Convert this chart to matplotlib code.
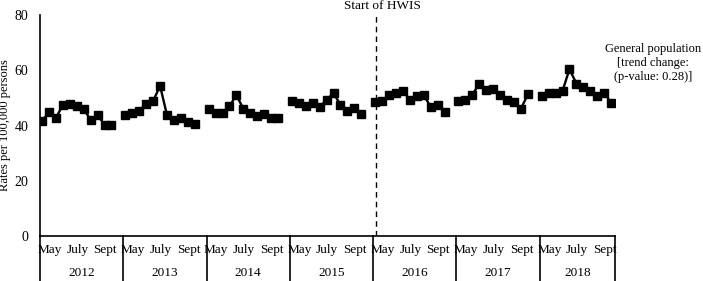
import numpy as np
import matplotlib
matplotlib.use("Agg")
import matplotlib.pyplot as plt

plt.rcParams['font.family']=['Liberation Serif','DejaVu Serif']

#data (11 points per year, May to Sept)
years=['2012','2013','2014','2015','2016','2017','2018']
month_labels=['May','July','Sept']
rate_2012=[41.6,44.8,42.7,47.6,47.7,47.2,46.0,42.0,43.9,40.2,40.2]
rate_2013=[43.8,44.4,45.3,47.9,48.8,54.4,43.8,42.1,42.7,41.1,40.4]
rate_2014=[45.8,44.7,44.7,47.0,51.0,46.1,44.5,43.6,44.1,42.7,42.9]
rate_2015=[48.9,48.3,47.1,48.3,46.6,49.4,51.6,47.6,45.1,46.3,44.3]
rate_2016=[48.5,49.0,50.9,51.6,52.5,49.4,50.7,51.1,46.7,47.3,45.0]
rate_2017=[48.8,49.1,51.2,55.0,53.0,53.2,51.2,49.1,48.4,46.0,51.3]
rate_2018=[50.8,51.6,51.6,52.5,60.4,55.2,54.1,52.5,50.7,51.9,48.2]
rates=[rate_2012,rate_2013,rate_2014,rate_2015,rate_2016,rate_2017,rate_2018]

fig=plt.figure(figsize=(7.03,2.81),dpi=100)
ax=fig.add_axes([0.0569,0.160,0.8178,0.7866])

slots=12
#plot each year as its own segment
for k,r in enumerate(rates):
    x=k*slots+np.arange(len(r))+0.3
    ax.plot(x,r,color="black",linewidth=1.7,marker="s",markersize=5.2)

#start of HWIS
ax.axvline(4*slots+0.4,color="black",linestyle=(0,(4,3)),linewidth=1)
ax.text(4*slots+1.3,83.4,"Start of HWIS",ha="center",va="center",fontsize=9.5,clip_on=False)

ax.set_xlim(0,82.85)
ax.set_ylim(0,80)
ax.set_yticks([0,20,40,60,80])
ax.set_xticks([])
ax.tick_params(axis="y",length=0,pad=8.5,labelsize=10)
ax.set_ylabel("Rates per 100,000 persons",fontsize=9)
ax.yaxis.set_label_coords(-0.0505,0.5)
ax.spines["top"].set_visible(False)
ax.spines["right"].set_visible(False)
ax.spines["left"].set_linewidth(1.2)
ax.spines["bottom"].set_linewidth(1.2)

#table under the axis: months and years
for k in range(len(years)+1):
    xb=min(k*slots,82.85)
    ax.plot([xb,xb],[0,-18],color="black",linewidth=1.2,clip_on=False)
for k,yr in enumerate(years):
    for m,pos in zip(month_labels,[1.4,5.4,9.4]):
        ax.text(k*slots+pos,-5.1,m,ha="center",va="center",fontsize=9.5,clip_on=False)
    right=min((k+1)*slots,82.85)
    ax.text((k*slots+right)/2,-13.3,yr,ha="center",va="center",fontsize=9.5,clip_on=False)

#series label
ax.text(88.4,62.6,"General population\n[trend change:\n(p-value: 0.28)]",ha="center",va="center",
        fontsize=9,linespacing=1.2,clip_on=False)

fig.savefig("out.png",dpi=100)
